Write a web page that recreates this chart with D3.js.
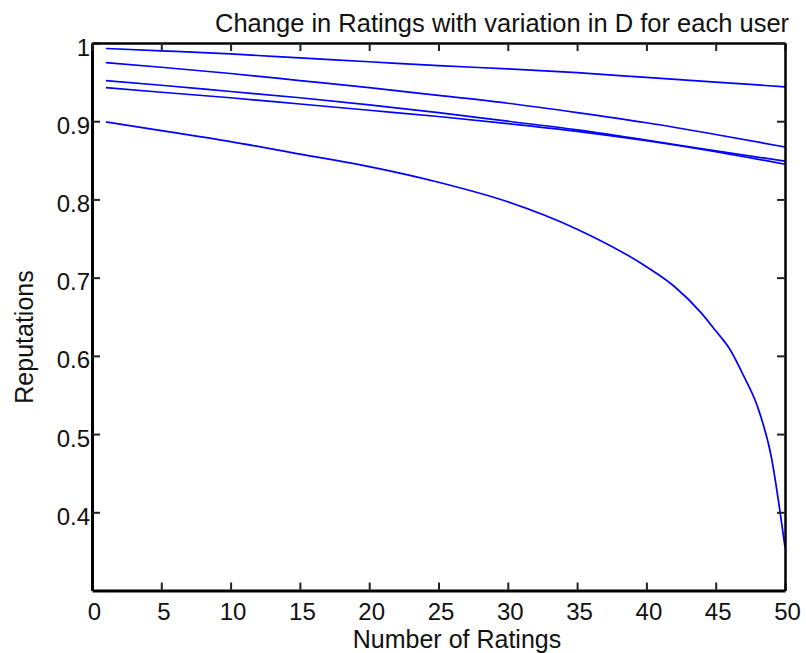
<!DOCTYPE html>
<html>
<head>
<meta charset="utf-8">
<script src="https://cdn.jsdelivr.net/npm/d3@7"></script>
<style>
  body { margin: 0; background: #fff; }
  text { font-family: "Liberation Sans", Arial, sans-serif; fill: #111; }
</style>
</head>
<body>
<svg width="806" height="653"></svg>
<script>
// svg container and size
const svg = d3.select("svg");
const width = +svg.attr("width");
const height = +svg.attr("height");

// plot box (pixels)
const plot = { left: 92, right: 785, top: 43, bottom: 590.5 };

// number of ratings (x) for the four flat users
const ratings = [1, 5, 10, 15, 20, 25, 30, 35, 40, 45, 50];
// the fifth user is sampled more densely near the end, where it drops
const ratingsLast = [1, 5, 10, 15, 20, 25, 30, 35, 40, 42, 44, 45, 46, 47, 48, 49, 50];

// reputations
const user1 = [0.993, 0.990, 0.986, 0.981, 0.976, 0.971, 0.967, 0.962, 0.956, 0.950, 0.944];
const user2 = [0.975, 0.969, 0.961, 0.952, 0.943, 0.933, 0.923, 0.911, 0.898, 0.883, 0.867];
const user3 = [0.952, 0.946, 0.938, 0.930, 0.921, 0.911, 0.900, 0.889, 0.876, 0.862, 0.849];
const user4 = [0.943, 0.937, 0.930, 0.922, 0.914, 0.906, 0.897, 0.887, 0.875, 0.861, 0.845];
const user5 = [0.899, 0.888, 0.874, 0.858, 0.842, 0.822, 0.797, 0.762, 0.714, 0.689, 0.654, 0.632, 0.609, 0.575, 0.536, 0.472, 0.355];

// ticks
const xTicks = [0, 5, 10, 15, 20, 25, 30, 35, 40, 45, 50];
const yTicks = [0.4, 0.5, 0.6, 0.7, 0.8, 0.9, 1];
const yTickLabels = ["0.4", "0.5", "0.6", "0.7", "0.8", "0.9", "1"];

const series = [
  { x: ratings, y: user1 },
  { x: ratings, y: user2 },
  { x: ratings, y: user3 },
  { x: ratings, y: user4 },
  { x: ratingsLast, y: user5 }
];

// scales
const xScale = d3.scaleLinear().domain([0, 50]).range([plot.left, plot.right]);
const yScale = d3.scaleLinear().domain([0.3, 1]).range([plot.bottom, plot.top]);

// curves
const line = d3.line()
  .x(d => xScale(d[0]))
  .y(d => yScale(d[1]))
  .curve(d3.curveMonotoneX);

svg.append("g")
  .selectAll("path")
  .data(series)
  .join("path")
  .attr("d", s => line(s.x.map((v, i) => [v, s.y[i]])))
  .attr("fill", "none")
  .attr("stroke", "#0000ff")
  .attr("stroke-width", 1.7);

// axes, ticks pointing inside like matlab
const fmtY = d => yTickLabels[yTicks.indexOf(d)];

const xAxis = svg.append("g")
  .attr("transform", `translate(0, ${plot.bottom})`)
  .call(d3.axisBottom(xScale).tickValues(xTicks).tickSizeInner(-8).tickSizeOuter(0).tickPadding(12.5));

const yAxis = svg.append("g")
  .attr("transform", `translate(${plot.left}, 0)`)
  .call(d3.axisLeft(yScale).tickValues(yTicks).tickFormat(fmtY).tickSizeInner(-8).tickSizeOuter(0).tickPadding(2));

const topAxis = svg.append("g")
  .attr("transform", `translate(0, ${plot.top})`)
  .call(d3.axisTop(xScale).tickValues(xTicks).tickFormat("").tickSizeInner(-8).tickSizeOuter(0));

const rightAxis = svg.append("g")
  .attr("transform", `translate(${plot.right}, 0)`)
  .call(d3.axisRight(yScale).tickValues(yTicks).tickFormat("").tickSizeInner(-8).tickSizeOuter(0));

[xAxis, yAxis, topAxis, rightAxis].forEach(g => {
  g.selectAll("text").attr("font-size", 24).attr("font-family", null).attr("fill", "#111");
  g.selectAll(".tick line").attr("stroke", "#222").attr("stroke-width", 2);
  g.select(".domain").attr("stroke", "#000");
});
xAxis.select(".domain").attr("stroke-width", 3);
yAxis.select(".domain").attr("stroke-width", 3);
topAxis.select(".domain").attr("stroke-width", 2.5);
rightAxis.select(".domain").attr("stroke-width", 2.5);

xAxis.selectAll("text").attr("dx", 2);
yAxis.selectAll("text").attr("dy", "0.5em");

// title and axis labels
svg.append("text")
  .attr("x", 215)
  .attr("y", 32)
  .attr("font-size", 25.5)
  .text("Change in Ratings with variation in D for each user");

svg.append("text")
  .attr("x", 457)
  .attr("y", 648)
  .attr("text-anchor", "middle")
  .attr("font-size", 25)
  .text("Number of Ratings");

svg.append("text")
  .attr("transform", "translate(33, 337) rotate(-90)")
  .attr("text-anchor", "middle")
  .attr("font-size", 25)
  .text("Reputations");
</script>
</body>
</html>
